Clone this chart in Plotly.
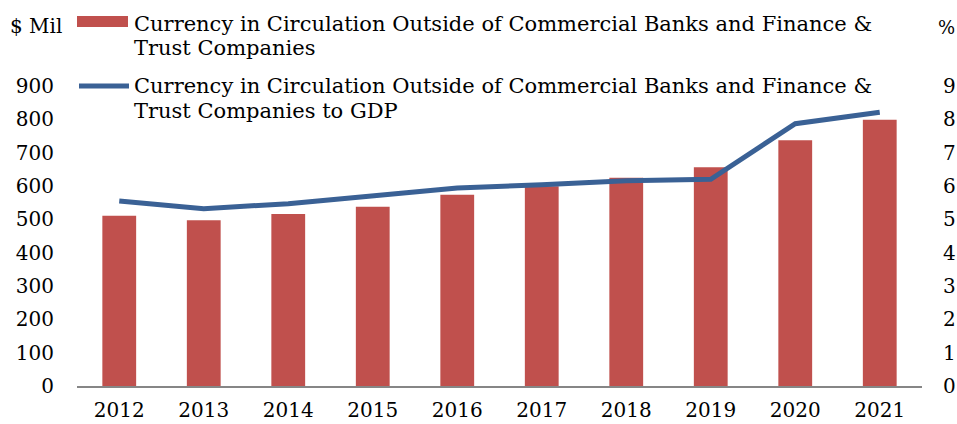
import plotly.graph_objects as go

years = ['2012', '2013', '2014', '2015', '2016', '2017', '2018', '2019', '2020', '2021']
currency_mil = [511, 497, 516, 538, 574, 599, 625, 656, 737, 799]
currency_to_gdp = [5.55, 5.32, 5.47, 5.72, 5.94, 6.04, 6.16, 6.20, 7.87, 8.21]

bar_name = 'Currency in Circulation Outside of Commercial Banks and Finance &<br>Trust Companies'
line_name = 'Currency in Circulation Outside of Commercial Banks and Finance &<br>Trust Companies to GDP'

FONT = 'DejaVu Serif'
FS = 20
RED = '#C0504D'
BLUE = '#3A6195'

bar = go.Bar(
    x=years,
    y=currency_mil,
    name=bar_name,
    marker=dict(color=RED, line=dict(width=0)),
    width=0.4,
    showlegend=False,
    )

line = go.Scatter(
    x=years,
    y=currency_to_gdp,
    name=line_name,
    yaxis='y2',
    mode='lines',
    line=dict(color=BLUE, width=5),
    showlegend=False,
    )

fig = go.Figure(data=[bar, line])

# hand-drawn legend (wide swatches like the original)
# coordinates below are page pixels, converted to paper units of the plot area
W, H = 845, 300
def px(x):
    return (x - 77) / W
def py(y):
    return (386 - y) / H

fig.add_shape(type='rect', xref='paper', yref='paper',
              x0=px(77), x1=px(128), y0=py(27), y1=py(16),
              fillcolor=RED, line=dict(width=0))
fig.add_shape(type='line', xref='paper', yref='paper',
              x0=px(79), x1=px(129), y0=py(86), y1=py(86),
              line=dict(color=BLUE, width=5))

legend_lines = [
    ('Currency in Circulation Outside of Commercial Banks and Finance &', 24),
    ('Trust Companies', 48),
    ('Currency in Circulation Outside of Commercial Banks and Finance &', 86),
    ('Trust Companies to GDP', 111),
]
for txt, yy in legend_lines:
    fig.add_annotation(text=txt, xref='paper', yref='paper',
                       x=px(132), y=py(yy), xanchor='left', yanchor='middle',
                       showarrow=False, font=dict(family=FONT, size=21, color='#000'))

fig.add_annotation(text='$ Mil', xref='paper', yref='paper', x=px(8), y=py(26),
                   xanchor='left', yanchor='middle', showarrow=False,
                   font=dict(family=FONT, size=FS, color='#000'))
fig.add_annotation(text='%', xref='paper', yref='paper', x=px(957), y=py(28),
                   xanchor='right', yanchor='middle', showarrow=False,
                   font=dict(family=FONT, size=18, color='#000'))

fig.update_layout(
    width=957, height=424,
    margin=dict(l=77, r=35, t=86, b=38),
    paper_bgcolor='white', plot_bgcolor='white',
    font=dict(family=FONT, size=FS, color='#000'),
    bargap=0.6,
    xaxis=dict(showline=True, linecolor='#868686', linewidth=2, ticks='',
               showgrid=False, ticklabelstandoff=5, automargin=False),
    yaxis=dict(range=[0, 900], dtick=100, showgrid=False, zeroline=False,
               showline=False, ticks='', ticklabelstandoff=22, automargin=False),
    yaxis2=dict(range=[0, 9], dtick=1, overlaying='y', side='right',
                showgrid=False, zeroline=False, showline=False, ticks='',
                ticklabelstandoff=20, automargin=False),
    )

# drop the default 8px body margin so the figure fills the window exactly
fig.write_html('out.html', config={'displayModeBar': False},
               post_script="document.body.style.margin='0';")
